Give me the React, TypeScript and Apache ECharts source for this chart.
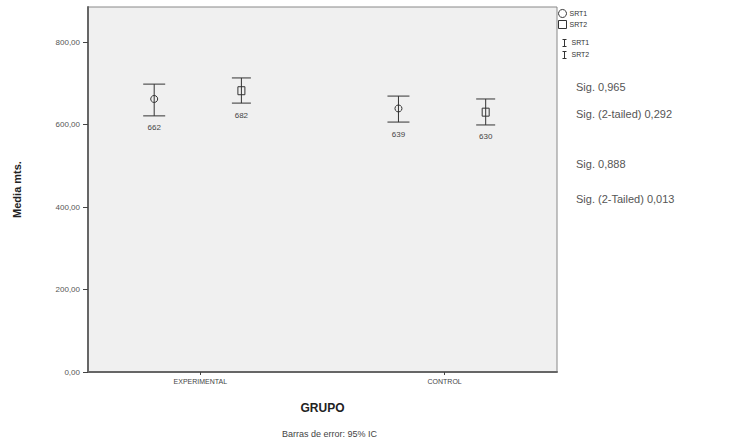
import React, { useEffect, useRef } from "react";
import * as echarts from "echarts";

const categories = ["EXPERIMENTAL", "CONTROL"];
const srt1Mean = [662, 639];
const srt1Low = [621, 606];
const srt1High = [698, 669];
const srt2Mean = [682, 630];
const srt2Low = [652, 599];
const srt2High = [713, 662];
const yTicks = [0, 200, 400, 600, 800];
const xTicks = [0, 1];
const sigTexts = ["Sig. 0,965", "Sig. (2-tailed) 0,292", "Sig. 0,888", "Sig. (2-Tailed) 0,013"];

const FONT = "Liberation Sans, Arial, sans-serif";

function makeRender(offset: number, shape: "circle" | "rect", whisker: number) {
  return (params: any, api: any) => {
    const c = api.value(0);
    const unit = api.size([1, 0])[0];
    const mean = api.coord([c, api.value(1)]);
    const lo = api.coord([c, api.value(2)]);
    const hi = api.coord([c, api.value(3)]);
    const x = mean[0] + offset * unit;
    const stroke = { stroke: "#333", lineWidth: 1 };
    const children: any[] = [
      { type: "line", shape: { x1: x, y1: hi[1], x2: x, y2: lo[1] }, style: stroke },
      { type: "line", shape: { x1: x - whisker / 2, y1: hi[1], x2: x + whisker / 2, y2: hi[1] }, style: stroke },
      { type: "line", shape: { x1: x - whisker / 2, y1: lo[1], x2: x + whisker / 2, y2: lo[1] }, style: stroke },
    ];
    if (shape === "circle") {
      children.push({ type: "circle", shape: { cx: x, cy: mean[1], r: 3.5 }, style: { fill: "none", stroke: "#333", lineWidth: 1 } });
    } else {
      children.push({ type: "rect", shape: { x: x - 3.5, y: mean[1] - 4, width: 7, height: 8 }, style: { fill: "none", stroke: "#333", lineWidth: 1 } });
    }
    children.push({
      type: "text",
      style: {
        text: String(Math.round(api.value(1))),
        x: x,
        y: lo[1] + 8,
        align: "center",
        verticalAlign: "top",
        fontSize: 8,
        fontFamily: FONT,
        fill: "#444",
      },
    });
    return { type: "group", children };
  };
}

export default function App() {
  const ref = useRef<HTMLDivElement>(null);
  useEffect(() => {
    const chart = echarts.init(ref.current!, null, { renderer: "svg" });
    const d1 = categories.map((_, i) => [i, srt1Mean[i], srt1Low[i], srt1High[i]]);
    const d2 = categories.map((_, i) => [i, srt2Mean[i], srt2Low[i], srt2High[i]]);
    const legendX = 560;
    chart.setOption({
      animation: false,
      backgroundColor: "#ffffff",
      grid: {
        left: 88,
        right: 174,
        top: 7,
        bottom: 72,
        show: true,
        backgroundColor: "#f0f0f0",
        borderColor: "#888",
        borderWidth: 1,
      },
      legend: {
        orient: "vertical",
        left: legendX - 2,
        top: 9,
        itemWidth: 8,
        itemHeight: 8,
        itemGap: 2,
        padding: 0,
        textStyle: { fontSize: 7, fontFamily: FONT, color: "#333", padding: [0, 0, 0, -2] },
        data: [
          { name: "SRT1", icon: "circle", itemStyle: { color: "#fff", borderColor: "#333", borderWidth: 1 } },
          { name: "SRT2", icon: "rect", itemStyle: { color: "#fff", borderColor: "#333", borderWidth: 1 } },
        ],
      },
      xAxis: {
        type: "value",
        min: -0.46,
        max: 1.46,
        name: "GRUPO",
        nameLocation: "middle",
        nameGap: 30,
        nameTextStyle: { fontSize: 12, fontWeight: "bold", fontFamily: FONT, color: "#222" },
        axisLine: { onZero: false, lineStyle: { color: "#666", width: 2 } },
        axisTick: { show: true, length: 3, lineStyle: { color: "#444" }, customValues: xTicks },
        splitLine: { show: false },
        axisLabel: {
          fontSize: 7,
          fontFamily: FONT,
          color: "#444",
          margin: 6,
          customValues: xTicks,
          formatter: (v: number) => categories[Math.round(v)] ?? "",
        },
      },
      yAxis: {
        type: "value",
        min: 0,
        max: 885,
        name: "Media mts.",
        nameLocation: "middle",
        nameGap: 66,
        nameRotate: 90,
        nameTextStyle: { fontSize: 11, fontWeight: "bold", fontFamily: FONT, color: "#222" },
        axisLine: { show: true, onZero: false, lineStyle: { color: "#666", width: 2 } },
        axisTick: { show: true, length: 5, lineStyle: { color: "#444" }, customValues: yTicks },
        splitLine: { show: false },
        axisLabel: {
          fontSize: 8,
          fontFamily: FONT,
          color: "#555",
          margin: 8,
          customValues: yTicks,
          formatter: (v: number) => v.toFixed(2).replace(".", ","),
        },
      },
      series: [
        {
          name: "SRT1",
          type: "custom",
          renderItem: makeRender(-0.189, "circle", 22),
          encode: { x: 0, y: [1, 2, 3] },
          data: d1,
          itemStyle: { color: "#fff", borderColor: "#333" },
        },
        {
          name: "SRT2",
          type: "custom",
          renderItem: makeRender(0.168, "rect", 19),
          encode: { x: 0, y: [1, 2, 3] },
          data: d2,
          itemStyle: { color: "#fff", borderColor: "#333" },
        },
      ],
      graphic: [
        ...[0, 1].map((i) => ({
          type: "group",
          left: legendX,
          top: 37 + i * 12,
          children: [
            { type: "line", shape: { x1: 0, y1: 0, x2: 4, y2: 0 }, style: { stroke: "#333", lineWidth: 1 } },
            { type: "line", shape: { x1: 2, y1: 0, x2: 2, y2: 7 }, style: { stroke: "#333", lineWidth: 1 } },
            { type: "line", shape: { x1: 0, y1: 7, x2: 4, y2: 7 }, style: { stroke: "#333", lineWidth: 1 } },
            { type: "text", x: 9, y: -1, style: { text: i === 0 ? "SRT1" : "SRT2", fontSize: 7, fontFamily: FONT, fill: "#333" } },
          ],
        })),
        ...sigTexts.map((t, i) => ({
          type: "text",
          left: 576,
          top: [81, 108, 158, 193][i],
          style: { text: t, fontSize: 11, fontFamily: FONT, fill: "#555" },
        })),
        {
          type: "text",
          left: 282,
          top: 429,
          style: { text: "Barras de error: 95% IC", fontSize: 9, fontFamily: FONT, fill: "#444" },
        },
      ],
    });
    return () => chart.dispose();
  }, []);
  return <div ref={ref} style={{ position: "fixed", left: 0, top: 0, width: 731, height: 444 }} />;
}
